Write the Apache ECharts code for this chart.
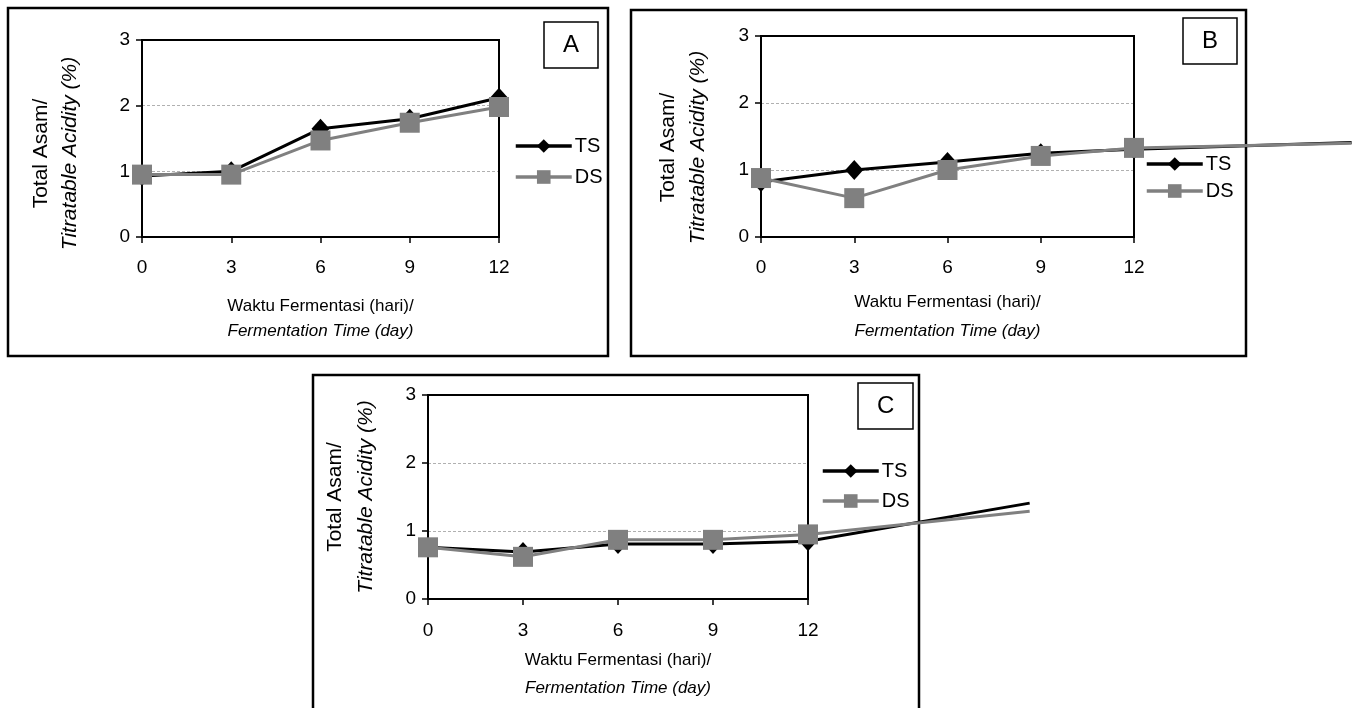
<!DOCTYPE html>
<html><head><meta charset="utf-8">
<script src="https://cdn.jsdelivr.net/npm/echarts@6/dist/echarts.min.js"></script>
<style>html,body{margin:0;padding:0;background:#fff}#c{width:1362px;height:708px}</style>
</head><body><div id="c"></div>
<script>
// ---- data ----
const days = [0, 3, 6, 9, 12];
const yTicks = [0, 1, 2, 3];
const seriesNames = ['TS', 'DS'];
const panelLabels = ['A', 'B', 'C'];
const tsA = [0.93, 1.00, 1.65, 1.80, 2.12];
const dsA = [0.95, 0.95, 1.47, 1.74, 1.98];
const tsB = [0.82, 1.00, 1.12, 1.25, 1.31];
const dsB = [0.88, 0.58, 1.00, 1.21, 1.33];
const tsC = [0.76, 0.69, 0.81, 0.81, 0.85];
const dsC = [0.76, 0.62, 0.87, 0.87, 0.95];
// stray trailing segments that run past day 12 in the source figure (panels B, C)
const tailDay = 19;
const tsTail = [null, 1.41, 1.41];
const dsTail = [null, 1.40, 1.29];
const xNameLine1 = 'Waktu Fermentasi (hari)/';
const xNameLine2 = 'Fermentation Time (day)';
const yNameLine1 = 'Total Asam/';
const yNameLine2 = 'Titratable Acidity (%)';

// ---- layout / style ----
const FONT = '"Liberation Sans", Arial, sans-serif';
const tsSeries = [tsA, tsB, tsC];
const dsSeries = [dsA, dsB, dsC];
const L = [
  {grid:{left:142, top:40, width:357, height:197}, legend:{left:514, top:136, itemGap:11},
   title:{left:544, top:22}, frame:[8, 8, 600, 348], xGap:57, xLH:25, xMargin:21, yGap:57, yLH:29, yPad:[0,30,0,0]},
  {grid:{left:761, top:36, width:373, height:201}, legend:{left:1145, top:154, itemGap:7},
   title:{left:1183, top:18}, frame:[631, 10, 615, 346], xGap:51, xLH:29, xMargin:21, yGap:48, yLH:30, yPad:[0,22,0,0]},
  {grid:{left:428, top:395, width:380, height:204}, legend:{left:821, top:461, itemGap:10},
   title:{left:858, top:383}, frame:[313, 375, 606, 400], xGap:47, xLH:28, xMargin:22, yGap:46, yLH:31, yPad:[0,0,0,0]}
];

const grids = [], xAxes = [], yAxes = [], series = [], legends = [], titles = [], graphics = [];
L.forEach((p, i) => {
  grids.push(Object.assign({show:true, borderColor:'#000', borderWidth:2, backgroundColor:'transparent', z:1}, p.grid));
  xAxes.push({
    gridIndex:i, type:'value', min:0, max:12, interval:3,
    axisLine:{show:true, onZero:false, lineStyle:{color:'#000', width:2}},
    axisTick:{show:true, length:6, lineStyle:{color:'#000', width:1.5}},
    axisLabel:{color:'#000', fontSize:19, fontFamily:FONT, margin:p.xMargin},
    splitLine:{show:false},
    name:'{a|' + xNameLine1 + '}\n{b|' + xNameLine2 + '}',
    nameLocation:'middle', nameGap:p.xGap,
    nameTextStyle:{color:'#000', fontFamily:FONT, rich:{
      a:{fontSize:17, fontFamily:FONT, color:'#000', lineHeight:p.xLH},
      b:{fontSize:17, fontFamily:FONT, color:'#000', fontStyle:'italic', lineHeight:p.xLH}}}
  });
  yAxes.push({
    gridIndex:i, type:'value', min:yTicks[0], max:yTicks[yTicks.length-1], interval:1,
    axisLine:{show:true, lineStyle:{color:'#000', width:2}},
    axisTick:{show:true, length:6, lineStyle:{color:'#000', width:1.5}},
    axisLabel:{color:'#000', fontSize:19, fontFamily:FONT, margin:12},
    splitLine:{show:true, lineStyle:{color:'#b0b0b0', width:1, type:[3,2]}},
    name:'{a|' + yNameLine1 + '}\n{b|' + yNameLine2 + '}',
    nameLocation:'middle', nameGap:p.yGap,
    nameTextStyle:{color:'#000', fontFamily:FONT, padding:p.yPad, rich:{
      a:{fontSize:21, fontFamily:FONT, color:'#000', lineHeight:p.yLH},
      b:{fontSize:21, fontFamily:FONT, color:'#000', fontStyle:'italic', lineHeight:p.yLH}}}
  });
  series.push({
    type:'line', name:seriesNames[0], xAxisIndex:i, yAxisIndex:i, clip:false,
    data:days.map((x, k) => [x, tsSeries[i][k]]), symbol:'diamond', symbolSize:[18,20],
    lineStyle:{color:'#000', width:3}, itemStyle:{color:'#000'}, z:3, animation:false
  });
  series.push({
    type:'line', name:seriesNames[1], xAxisIndex:i, yAxisIndex:i, clip:false,
    data:days.map((x, k) => [x, dsSeries[i][k]]), symbol:'rect', symbolSize:20,
    lineStyle:{color:'#808080', width:3}, itemStyle:{color:'#808080'}, z:4, animation:false
  });
  legends.push({
    data:seriesNames.slice(), orient:'vertical', left:p.legend.left, top:p.legend.top,
    itemGap:p.legend.itemGap, itemWidth:56, itemHeight:17, padding:0, selectedMode:false,
    lineStyle:{width:3.5},
    textStyle:{color:'#000', fontSize:20, fontFamily:FONT, padding:[0,0,0,-2]}
  });
  titles.push({
    text:panelLabels[i], left:p.title.left, top:p.title.top, padding:[11,19],
    borderColor:'#000', borderWidth:1.5,
    textStyle:{color:'#000', fontSize:24, fontWeight:'normal', fontFamily:FONT, lineHeight:24}
  });
  graphics.push({
    type:'rect', silent:true, z:0,
    shape:{x:p.frame[0], y:p.frame[1], width:p.frame[2], height:p.frame[3]},
    style:{fill:'none', stroke:'#000', lineWidth:2.5}
  });
});

// hidden, wider coordinate systems (same scale) for the trailing segments past day 12
L.forEach((p, i) => {
  if (tsTail[i] == null) return;
  const gi = grids.length;
  grids.push({show:false, left:p.grid.left, top:p.grid.top,
              width:p.grid.width * tailDay / days[days.length-1], height:p.grid.height});
  xAxes.push({gridIndex:gi, type:'value', min:0, max:tailDay, show:false});
  yAxes.push({gridIndex:gi, type:'value', min:yTicks[0], max:yTicks[yTicks.length-1], show:false});
  const last = days.length - 1;
  series.push({
    type:'line', name:'TS tail', xAxisIndex:gi, yAxisIndex:gi, symbol:'none', clip:false,
    data:[[days[last], tsSeries[i][last]], [tailDay, tsTail[i]]],
    lineStyle:{color:'#000', width:3}, z:3, animation:false
  });
  series.push({
    type:'line', name:'DS tail', xAxisIndex:gi, yAxisIndex:gi, symbol:'none', clip:false,
    data:[[days[last], dsSeries[i][last]], [tailDay, dsTail[i]]],
    lineStyle:{color:'#808080', width:3}, z:3, animation:false
  });
});

const chart = echarts.init(document.getElementById('c'), null, {renderer:'canvas'});
chart.setOption({
  backgroundColor:'#fff',
  animation:false,
  textStyle:{fontFamily:FONT},
  title:titles, legend:legends, grid:grids, xAxis:xAxes, yAxis:yAxes, series:series,
  graphic:graphics
});
</script></body></html>
